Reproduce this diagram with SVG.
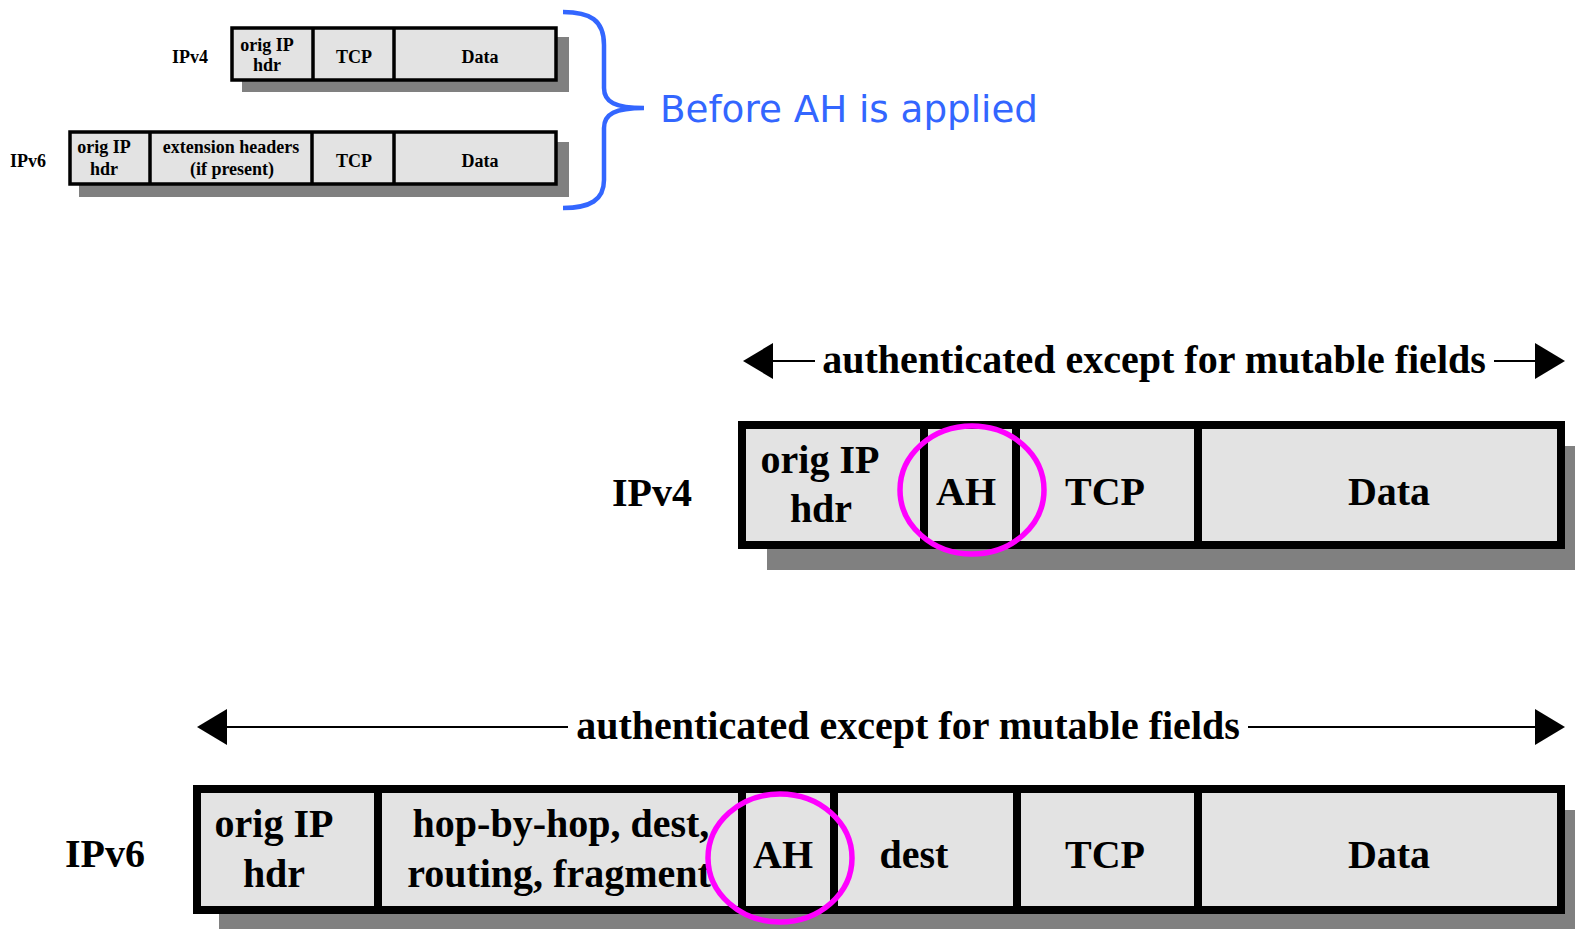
<svg xmlns="http://www.w3.org/2000/svg" width="1575" height="929" viewBox="0 0 1575 929">
<style>
.shadow{fill:#808080}
.cell{fill:#E3E3E3;stroke:#000}
.big{stroke-width:8}
.small{stroke-width:3.5}
.div{stroke:#000}
.t{font-family:"Liberation Serif","Times New Roman",serif;font-weight:bold;fill:#000;text-anchor:middle}
.ts{font-size:18px}
.tb{font-size:40px}
.ring{fill:none;stroke:#FF00FF;stroke-width:5.5}
.conn{stroke:#000;stroke-width:2;fill:none}
.blue{fill:none;stroke:#3366FF;stroke-width:4.5;stroke-linecap:butt}
</style>
<defs>
<marker id="ah" viewBox="0 0 30 36" refX="0" refY="18" markerWidth="30" markerHeight="36" markerUnits="userSpaceOnUse" orient="auto">
<path d="M0,0 L30,18 L0,36 Z" fill="#000"/>
</marker>
</defs>
<rect width="1575" height="929" fill="#fff"/>

<g id="before-ipv4">
<rect class="shadow" x="242" y="37" width="327" height="55"/>
<rect class="cell small" x="232" y="28" width="324" height="52"/>
<line class="div small" x1="313" y1="28" x2="313" y2="80"/>
<line class="div small" x1="394" y1="28" x2="394" y2="80"/>
<text class="t ts" x="190" y="63">IPv4</text>
<text class="t ts" x="267" y="51">orig IP</text>
<text class="t ts" x="267" y="71">hdr</text>
<text class="t ts" x="354" y="63">TCP</text>
<text class="t ts" x="480" y="63">Data</text>
</g>

<g id="before-ipv6">
<rect class="shadow" x="79" y="142" width="490" height="55"/>
<rect class="cell small" x="70" y="132" width="486" height="52"/>
<line class="div small" x1="150" y1="132" x2="150" y2="184"/>
<line class="div small" x1="312" y1="132" x2="312" y2="184"/>
<line class="div small" x1="394" y1="132" x2="394" y2="184"/>
<text class="t ts" x="28" y="167">IPv6</text>
<text class="t ts" x="104" y="153">orig IP</text>
<text class="t ts" x="104" y="175">hdr</text>
<text class="t ts" x="231" y="153">extension headers</text>
<text class="t ts" x="232" y="175">(if present)</text>
<text class="t ts" x="354" y="167">TCP</text>
<text class="t ts" x="480" y="167">Data</text>
</g>

<g id="brace">
<path class="blue" d="M563,12 C590,12 604,20 604,45 L604,88 C604,102 615,108 644,108 C615,108 604,114 604,128 L604,180 C604,200 590,208 563,208"/>
<text x="660" y="122" font-family="Tahoma,'DejaVu Sans',Verdana,sans-serif" font-size="38" fill="#3366FF" textLength="378" lengthAdjust="spacingAndGlyphs">Before AH is applied</text>
</g>

<g id="after-ipv4">
<rect class="shadow" x="767" y="446" width="820" height="124"/>
<rect class="cell big" x="742" y="425" width="819" height="120"/>
<line class="div big" x1="924" y1="425" x2="924" y2="545"/>
<line class="div big" x1="1016" y1="425" x2="1016" y2="545"/>
<line class="div big" x1="1198" y1="425" x2="1198" y2="545"/>
<text class="t tb" x="652" y="506">IPv4</text>
<text class="t tb" x="820" y="473">orig IP</text>
<text class="t tb" x="821" y="522">hdr</text>
<text class="t tb" x="966" y="505">AH</text>
<text class="t tb" x="1105" y="505">TCP</text>
<text class="t tb" x="1389" y="505">Data</text>
<ellipse class="ring" cx="972" cy="490" rx="72" ry="64"/>
</g>

<g id="after-ipv6">
<rect class="shadow" x="219" y="810" width="1370" height="130"/>
<rect class="cell big" x="197" y="789" width="1364" height="121"/>
<line class="div big" x1="378" y1="789" x2="378" y2="910"/>
<line class="div big" x1="742" y1="789" x2="742" y2="910"/>
<line class="div big" x1="834" y1="789" x2="834" y2="910"/>
<line class="div big" x1="1017" y1="789" x2="1017" y2="910"/>
<line class="div big" x1="1198" y1="789" x2="1198" y2="910"/>
<text class="t tb" x="105" y="867">IPv6</text>
<text class="t tb" x="274" y="837">orig IP</text>
<text class="t tb" x="274" y="887">hdr</text>
<text class="t tb" x="561" y="837">hop-by-hop, dest,</text>
<text class="t tb" x="559" y="887">routing, fragment</text>
<text class="t tb" x="783" y="868">AH</text>
<text class="t tb" x="914" y="868">dest</text>
<text class="t tb" x="1105" y="868">TCP</text>
<text class="t tb" x="1389" y="868">Data</text>
<ellipse class="ring" cx="780" cy="858" rx="72" ry="64"/>
</g>

<g id="connectors">
<line class="conn" x1="815" y1="361" x2="773" y2="361" marker-end="url(#ah)"/>
<line class="conn" x1="1494" y1="361" x2="1535" y2="361" marker-end="url(#ah)"/>
<text class="t tb" x="1154" y="373">authenticated except for mutable fields</text>
<line class="conn" x1="568" y1="727" x2="227" y2="727" marker-end="url(#ah)"/>
<line class="conn" x1="1248" y1="727" x2="1535" y2="727" marker-end="url(#ah)"/>
<text class="t tb" x="908" y="739">authenticated except for mutable fields</text>
</g>
</svg>
